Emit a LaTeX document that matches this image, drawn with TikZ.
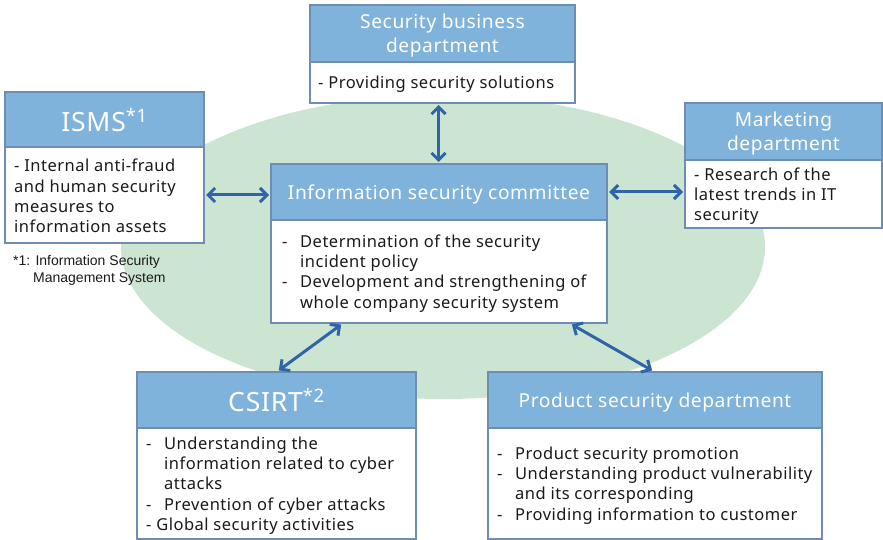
\documentclass[tikz,border=0pt]{standalone}
\usepackage{fontspec}
\setmainfont{Noto Sans}[LetterSpace=3]
\newfontfamily\footfont{Liberation Sans}
\usetikzlibrary{arrows.meta}
\definecolor{hdr}{HTML}{80B3DB}
\definecolor{bdr}{HTML}{6D8DB3}
\definecolor{arr}{HTML}{2F64A9}
\definecolor{bgg}{HTML}{CCE5D3}
\definecolor{txt}{HTML}{1A1A1A}
\newcommand\itm[1]{\makebox[18pt][l]{-}#1}
\newcommand\cnt[1]{\hspace*{18pt}#1}
\begin{document}
\begin{tikzpicture}[x=1pt,y=-1pt,
  hd/.style={draw=bdr, line width=2pt, fill=hdr, text=white, align=center, inner sep=0pt,
    text depth=0pt, font=\fontsize{19.2}{24}\selectfont},
  bigh/.style={hd, font=\fontsize{26.5}{30}\selectfont},
  bd/.style={draw=bdr, line width=2pt, fill=white, inner sep=0pt},
  bt/.style={anchor=west, align=left, inner sep=0pt, text=txt, yshift=-2pt,
    font=\fontsize{16.5}{20.3}\selectfont},
  conn/.style={arr, line width=3pt, {Straight Barb[length=7pt,width=14pt]}-{Straight Barb[length=7pt,width=14pt]},
    shorten <=1pt, shorten >=1pt}]
\useasboundingbox (0,0) rectangle (883,540);
\fill[white] (0,0) rectangle (883,540);
% background ellipse
\fill[bgg] (443,247) ellipse [x radius=322pt, y radius=152pt];

% Security business department
\node[hd, minimum width=265pt, minimum height=57pt] (sech) at (442.5,33.5) {Security business\\department};
\node[bd, minimum width=265pt, minimum height=41pt] (secb) at (442.5,82.5) {};
\node[bt] (sect) at ([xshift=9pt]secb.west) {- Providing security solutions};

% ISMS
\node[bigh, minimum width=199pt, minimum height=55pt] (ismsh) at (104.5,119.5) {ISMS\textsuperscript{*1}};
\node[bd, minimum width=199pt, minimum height=96pt] (ismsb) at (104.5,195) {};
\node[bt, yshift=1pt] (ismst) at ([xshift=10pt]ismsb.west) {- Internal anti-fraud\\and human security\\measures to\\information assets};
\node[anchor=west, align=left, inner sep=0pt, text=txt, font=\footfont\fontsize{14}{17}\selectfont] (fn) at (13,270.5)
  {*1: Information Security\\\hspace*{20pt}Management System};

% Marketing
\node[hd, minimum width=197pt, minimum height=57pt] (mkth) at (783.5,131.5) {Marketing\\department};
\node[bd, minimum width=197pt, minimum height=68pt] (mktb) at (783.5,194) {};
\node[bt] (mktt) at ([xshift=10pt]mktb.west) {- Research of the\\latest trends in IT\\security};

% Committee
\node[hd, minimum width=336pt, minimum height=56pt] (comh) at (439,192) {Information security committee};
\node[bd, minimum width=336pt, minimum height=103pt] (comb) at (439,271.5) {};
\node[bt] (comt) at ([xshift=12pt]comb.west) {\itm{Determination of the security}\\\cnt{incident policy}\\\itm{Development and strengthening of}\\\cnt{whole company security system}};

% CSIRT
\node[bigh, minimum width=279pt, minimum height=56pt] (csh) at (276.5,400) {CSIRT\textsuperscript{*2}};
\node[bd, minimum width=279pt, minimum height=111pt] (csb) at (276.5,483.5) {};
\node[bt] (cst) at ([xshift=10pt]csb.west) {\itm{Understanding the}\\\cnt{information related to cyber}\\\cnt{attacks}\\\itm{Prevention of cyber attacks}\\- Global security activities};

% Product security
\node[hd, minimum width=334pt, minimum height=56pt] (pdh) at (655,400) {Product security department};
\node[bd, minimum width=334pt, minimum height=111pt] (pdb) at (655,483.5) {};
\node[bt] (pdt) at ([xshift=10pt]pdb.west) {\itm{Product security promotion}\\\itm{Understanding product vulnerability}\\\cnt{and its corresponding}\\\itm{Providing information to customer}};

% connectors
\draw[conn] ([xshift=-4pt]secb.south) -- ([xshift=-0.5pt]comh.north);
\draw[conn] (ismsb.east) -- (ismsb.east -| comh.west);
\draw[conn] (comh.east) -- (comh.east -| mktb.west);
\draw[conn] ([xshift=72pt]comb.south west) -- ([xshift=1.5pt]csh.north);
\draw[conn] ([xshift=-37pt]comb.south east) -- ([xshift=-2pt]pdh.north);
\end{tikzpicture}
\end{document}
